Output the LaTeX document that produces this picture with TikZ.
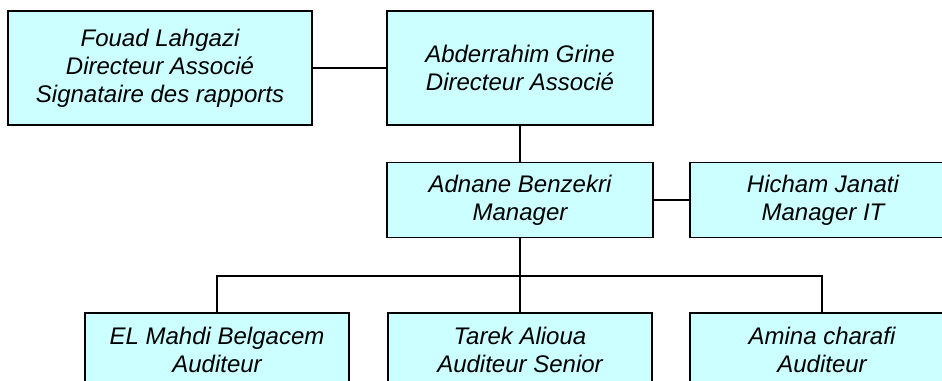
\documentclass[tikz,border=0pt]{standalone}
\usepackage{fontspec}
\setmainfont{Liberation Sans}
\usepackage{xcolor}
\usetikzlibrary{positioning,calc}
\definecolor{cyanbox}{HTML}{CCFFFF}
\tikzset{%
  person/.style={rectangle, draw=black, fill=cyanbox, line width=1.2pt,
    align=center, inner sep=0pt,
    font=\fontsize{18}{21}\selectfont\itshape},
  link/.style={line width=1.1pt},
}

\begin{document}
\begin{tikzpicture}[x=0.75pt,y=-0.75pt]
    \useasboundingbox (0,0) rectangle (942,381);

    % associes
    \node[person, minimum width=228pt, minimum height=85.5pt] (fouad) at (160,68)
      {Fouad Lahgazi\\Directeur Associé\\Signataire des rapports};
    \node[person, minimum width=199.5pt, minimum height=85.5pt] (grine) at (520,68)
      {Abderrahim Grine\\Directeur Associé};

    % managers
    \node[person, minimum width=199.5pt, minimum height=56pt] (benzekri) at (520,200)
      {Adnane Benzekri\\Manager};
    \node[person, minimum width=199.5pt, minimum height=56pt] (janati) at (823,200)
      {Hicham Janati\\Manager IT};

    % auditeurs
    \foreach \who/\xpos/\txt in {belgacem/217/{EL Mahdi Belgacem\\Auditeur},
        alioua/520/{Tarek Alioua\\Auditeur Senior},
        charafi/822/{Amina charafi\\Auditeur}}
      \node[person, minimum width=198pt, minimum height=55.5pt] (\who) at (\xpos,350) {\txt};

    \draw[link] (fouad.east) -- (grine.west);
    \draw[link] (grine.south) -- (benzekri.north);
    \draw[link] (benzekri.east) -- (janati.west);
    \draw[link] (benzekri.south) -- (alioua.north);
    \coordinate (bus) at (520,276);
    \draw[link] (belgacem.north) |- (bus) -| (charafi.north);
  \end{tikzpicture}
\end{document}
